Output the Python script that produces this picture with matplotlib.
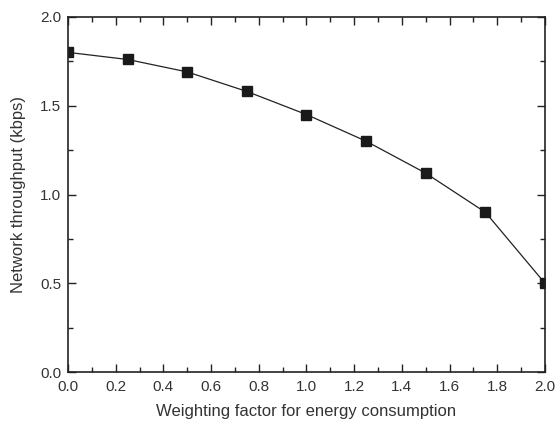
import matplotlib
matplotlib.use("Agg")
import matplotlib.pyplot as plt
from matplotlib.ticker import MultipleLocator

weights = [0.0, 0.25, 0.5, 0.75, 1.0, 1.25, 1.5, 1.75, 2.0]
throughput = [1.80, 1.76, 1.69, 1.58, 1.45, 1.30, 1.12, 0.90, 0.50]

plt.rcParams['font.family'] = ['Liberation Sans', 'DejaVu Sans']
fig = plt.figure(figsize=(5.55, 4.21), dpi=100)
ax = fig.add_axes([0.1225, 0.116, 0.8595, 0.844])
ax.plot(weights, throughput, color='#222222', lw=0.9, marker='s', ms=6.5,
        mfc='#1a1a1a', mec='#1a1a1a', clip_on=True)
ax.set_xlim(0, 2.0)
ax.set_ylim(0, 2.0)
ax.xaxis.set_major_locator(MultipleLocator(0.2))
ax.xaxis.set_minor_locator(MultipleLocator(0.1))
ax.yaxis.set_major_locator(MultipleLocator(0.5))
ax.yaxis.set_minor_locator(MultipleLocator(0.25))
ax.xaxis.set_major_formatter(plt.FormatStrFormatter('%.1f'))
ax.yaxis.set_major_formatter(plt.FormatStrFormatter('%.1f'))
ax.tick_params(which='both', direction='in', top=True, right=True,
               labelsize=11, labelcolor='#333333', color='#222222', width=1)
ax.tick_params(which='major', length=6)
ax.tick_params(which='minor', length=3.5)
ax.tick_params(axis='x', which='major', pad=6)
ax.tick_params(axis='y', which='major', pad=5)
for s in ax.spines.values():
    s.set_linewidth(1.2)
    s.set_color('#222222')
ax.set_xlabel('Weighting factor for energy consumption', fontsize=12, color='#333333', labelpad=7)
ax.set_ylabel('Network throughput (kbps)', fontsize=12, color='#333333', labelpad=10)
fig.savefig('out.png', dpi=100)
